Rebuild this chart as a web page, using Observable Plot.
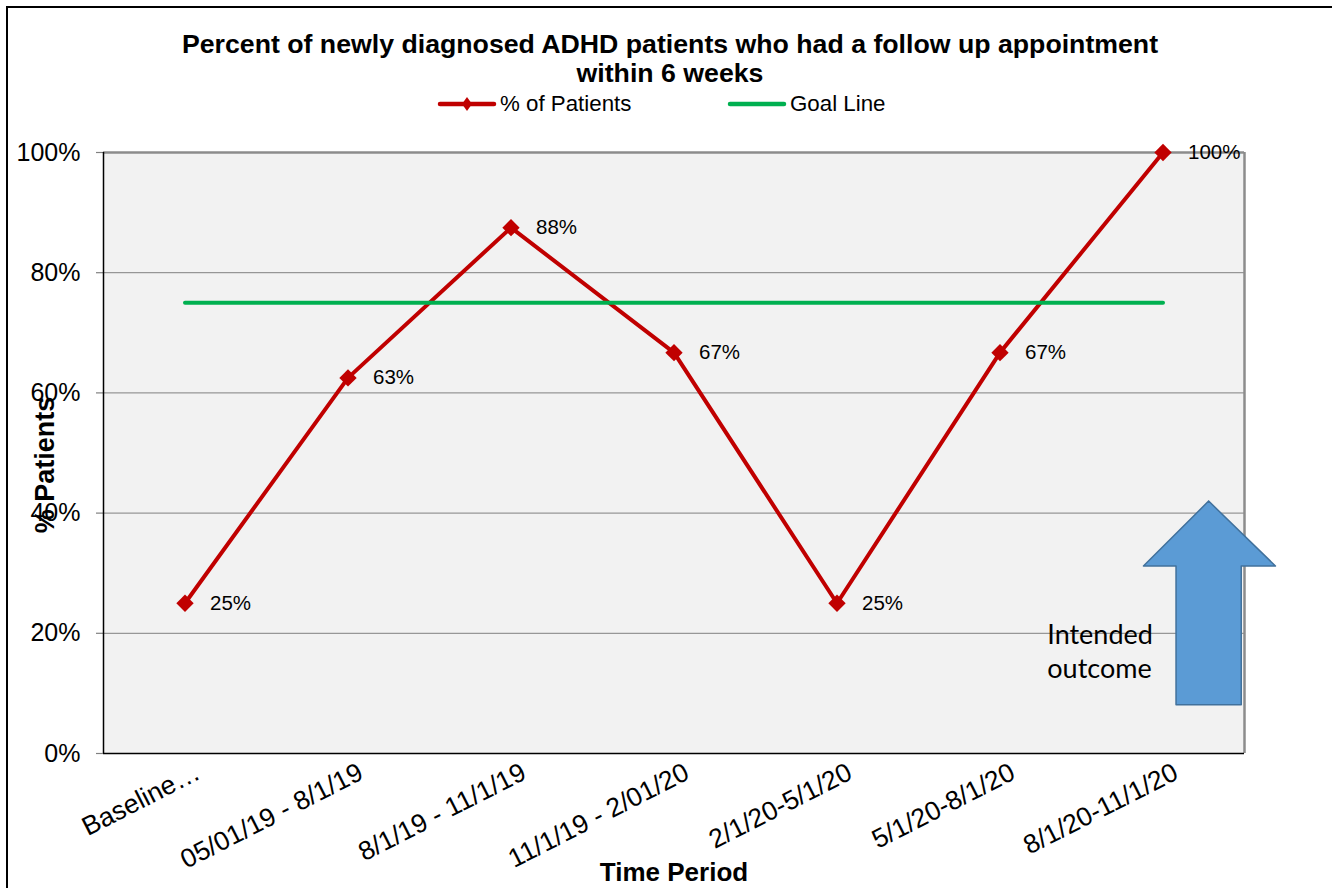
<!DOCTYPE html>
<html>
<head>
<meta charset="utf-8">
<script src="https://cdn.jsdelivr.net/npm/d3@7"></script>
<script src="https://cdn.jsdelivr.net/npm/@observablehq/plot@0.6"></script>
<style>
  html, body { margin: 0; padding: 0; background: #fff; }
  #wrap { position: relative; width: 1332px; height: 888px; overflow: hidden; font-family: "Liberation Sans", Arial, sans-serif; }
  #border { position: absolute; left: 6px; top: 6px; right: -10px; bottom: -10px; border-top: 2px solid #000; border-left: 2px solid #000; }
  #title { position: absolute; left: 0; width: 1340px; top: 30px; text-align: center; font-weight: bold; font-size: 26.7px; line-height: 29px; color: #000; }
  .legend-item { position: absolute; top: 91px; font-size: 22.3px; color: #000; display: flex; align-items: center; white-space: nowrap; }
  .legend-item span { margin-left: 3px; }
  #chart { position: absolute; left: 0; top: 0; }
</style>
</head>
<body>
<div id="wrap">
  <div id="border"></div>
  <div id="chart"></div>
  <div id="title">Percent of newly diagnosed ADHD patients who had a follow up appointment<br>within 6 weeks</div>
  <div class="legend-item" style="left:437px"><svg width="60" height="24"><line x1="3" y1="12" x2="57" y2="12" stroke="#c00000" stroke-width="4.5" stroke-linecap="round"/><path d="M30,5 L35,12 L30,19 L25,12 Z" fill="#c00000"/></svg><span>% of Patients</span></div>
  <div class="legend-item" style="left:727px"><svg width="60" height="24"><line x1="3" y1="12" x2="57" y2="12" stroke="#00b050" stroke-width="4.5" stroke-linecap="round"/></svg><span>Goal Line</span></div>
</div>
<script>
const categories = ["Baseline…", "05/01/19 - 8/1/19", "8/1/19 - 11/1/19", "11/1/19 - 2/01/20", "2/1/20-5/1/20", "5/1/20-8/1/20", "8/1/20-11/1/20"];
const patientPct = [0.25, 0.625, 0.875, 0.667, 0.25, 0.667, 1.0];
const valueLabels = ["25%", "63%", "88%", "67%", "25%", "67%", "100%"];
const goalPct = [0.75, 0.75, 0.75, 0.75, 0.75, 0.75, 0.75];
const yTicks = [0, 0.2, 0.4, 0.6, 0.8, 1.0];

// annotation shape (in chart units: category index, share)
const arrowShape = [
  [6.28, 0.42], [6.69, 0.312], [6.48, 0.312], [6.48, 0.081],
  [6.08, 0.081], [6.08, 0.312], [5.88, 0.312], [6.28, 0.42]
];
const annotationText = "Intended\noutcome";
const annotationPos = [5.29, 0.172];

const idx = categories.map((_, i) => i);
const series = idx.map(i => ({i, cat: categories[i], v: patientPct[i], label: valueLabels[i]}));
const goal = idx.map(i => ({i, v: goalPct[i]}));
const arrow = arrowShape.map(([x, y]) => ({x, y}));

const font = "Liberation Sans, Arial, sans-serif";

const chart = Plot.plot({
  width: 1332,
  height: 888,
  marginLeft: 103,
  marginRight: 88,
  marginTop: 152,
  marginBottom: 135,
  style: {fontFamily: font, background: "transparent", overflow: "visible"},
  x: {type: "linear", domain: [-0.5, 6.5], axis: null},
  y: {domain: [0, 1], axis: null},
  marks: [
    Plot.frame({fill: "#f2f2f2", stroke: null}),
    Plot.gridY(yTicks.filter(t => t > 0 && t < 1), {stroke: "#808080", strokeOpacity: 1, strokeWidth: 1}),
    Plot.ruleY(yTicks, {x1: -0.543, x2: -0.5, stroke: "#808080", strokeWidth: 1.2}),
    Plot.text(yTicks, {y: d => d, frameAnchor: "left", text: d3.format(".0%"), textAnchor: "end", dx: -23, fontSize: 25, fill: "#000"}),
    Plot.ruleY([1], {stroke: "#8c8c8c", strokeWidth: 2.5}),
    Plot.ruleX([6.5], {stroke: "#8c8c8c", strokeWidth: 2.5}),
    Plot.ruleX([-0.5], {stroke: "#000", strokeWidth: 1.5}),
    Plot.ruleY([0], {stroke: "#000", strokeWidth: 1.5}),
    Plot.line(series, {x: "i", y: "v", stroke: "#c00000", strokeWidth: 4, strokeLinejoin: "miter"}),
    Plot.dot(series, {x: "i", y: "v", symbol: "diamond2", r: 7.8, fill: "#c00000", stroke: null}),
    Plot.line(goal, {x: "i", y: "v", stroke: "#00b050", strokeWidth: 4}),
    Plot.text(series, {x: "i", y: "v", text: "label", dx: 25, textAnchor: "start", fontSize: 20.5, fill: "#000"}),
    Plot.text(series, {x: "i", y: 0, text: "cat", rotate: -27, textAnchor: "end", dx: 13, dy: 17, fontSize: 26.5, fill: "#000"}),
    Plot.text(["Time Period"], {x: 3, frameAnchor: "bottom", dy: 127, fontSize: 26, fontWeight: "bold", fill: "#000"}),
    Plot.text(["% Patients"], {y: 0.48, frameAnchor: "left", textAnchor: "middle", dx: -58, rotate: -90, fontSize: 27, fontWeight: "bold", fill: "#000"}),
    Plot.line(arrow, {x: "x", y: "y", fill: "#5b9bd5", stroke: "#41719c", strokeWidth: 1.5, curve: "linear", clip: false}),
    Plot.text([annotationText], {x: annotationPos[0], y: annotationPos[1], textAnchor: "start", fontSize: 27, lineHeight: 1.26, fontFamily: "Lato, Open Sans, sans-serif", fill: "#000"})
  ]
});
document.getElementById("chart").appendChild(chart);
</script>
</body>
</html>
